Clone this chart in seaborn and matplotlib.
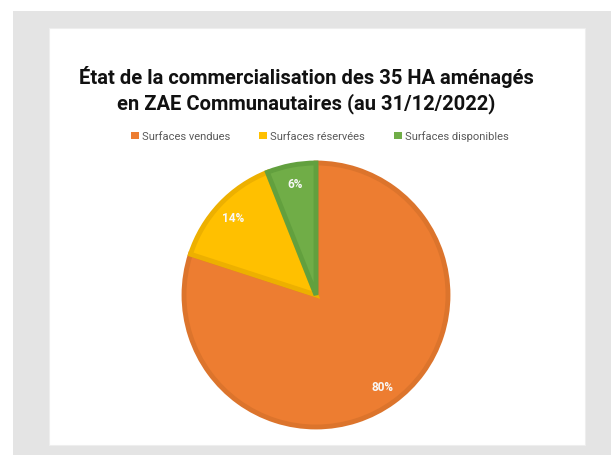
import matplotlib.pyplot as plt
import matplotlib.patches as mpatches
import seaborn as sns

# Data
labels = ['Surfaces vendues', 'Surfaces réservées', 'Surfaces disponibles']
values = [80, 14, 6]
colors = ['#ED7D31', '#FFC000', '#70AD47']
edge_colors = ['#DC742C', '#EDB000', '#62A03E']

sns.set_theme(style='white')
plt.rcParams['font.family'] = ['Roboto', 'DejaVu Sans']

W, H = 611, 456
fig = plt.figure(figsize=(W / 100, H / 100), dpi=100)
fig.patch.set_facecolor('white')

# grey frame and white card
fig.patches.append(mpatches.Rectangle((13 / W, 0), 1 - 13 / W, 1 - 12 / H,
                                      transform=fig.transFigure, facecolor='#e4e4e4',
                                      edgecolor='none', zorder=-2))
fig.patches.append(mpatches.Rectangle((49 / W, 10 / H), 536 / W, (446 - 29) / H,
                                      transform=fig.transFigure, facecolor='white',
                                      edgecolor='#eeeeee', linewidth=0.8, zorder=-1))

# Pie
cx, cy, r = 316, 296, 134
ax = fig.add_axes([(cx - r) / W, (H - cy - r) / H, 2 * r / W, 2 * r / H])
ax.set_zorder(2)
ax.patch.set_alpha(0)
wedges, texts, autotexts = ax.pie(values, colors=colors, startangle=90, counterclock=False,
                                  autopct='%1.0f%%', pctdistance=0.86, radius=0.985,
                                  wedgeprops=dict(linewidth=3.5),
                                  textprops=dict(color='#f8f8f8', fontsize=8.5, fontweight='bold'))
for w, ec in zip(wedges, edge_colors):
    w.set_edgecolor(ec)
ax.set_xlim(-1, 1)
ax.set_ylim(-1, 1)
ax.set_aspect('equal')
ax.axis('off')

# Title
fig.text(306 / W, 1 - 77 / H, 'État de la commercialisation des 35 HA aménagés',
         ha='center', va='center', fontsize=14.5, fontweight='bold', color='#111111')
fig.text(306 / W, 1 - 104 / H, 'en ZAE Communautaires (au 31/12/2022)',
         ha='center', va='center', fontsize=14.5, fontweight='bold', color='#111111')

# Legend
handles = [mpatches.Patch(facecolor=c, edgecolor='none', label=l) for c, l in zip(colors, labels)]
leg = fig.legend(handles=handles, loc='center', bbox_to_anchor=(320 / W, 1 - 137 / H), ncol=3,
                 frameon=False, fontsize=8, handlelength=0.7, handleheight=0.7,
                 handletextpad=0.3, columnspacing=2.6)
for t in leg.get_texts():
    t.set_color('#595959')

fig.savefig('out.png', dpi=100)
